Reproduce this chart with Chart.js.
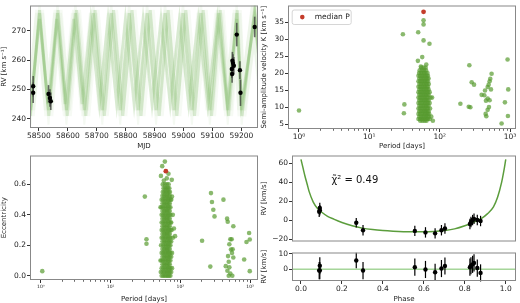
<!DOCTYPE html>
<html>
<head>
<meta charset="utf-8">
<script src="https://cdn.jsdelivr.net/npm/chart.js@4.4.1/dist/chart.umd.min.js"></script>
<style>
  body { margin: 0; background: #fff; width: 520px; height: 303px; overflow: hidden; position: relative; }
  canvas { position: absolute; }
</style>
</head>
<body>
<canvas id="rvTime" width="262" height="150" style="left:0;top:0"></canvas>
<canvas id="kPeriod" width="260" height="150" style="left:260px;top:0"></canvas>
<canvas id="ePeriod" width="262" height="153" style="left:0;top:150px"></canvas>
<canvas id="phaseFit" width="260" height="97" style="left:260px;top:150px"></canvas>
<canvas id="phaseRes" width="260" height="56" style="left:260px;top:247px"></canvas>
<script>
// ---- data ----

// RV vs time: observations
const obsMjd = [58480, 58480, 58533, 58538, 58541, 59169, 59171, 59174, 59167, 59168, 59184, 59195, 59197, 59246];
const obsRv  = [251.1, 248.9, 248.5, 247.1, 246.0, 259.8, 259.0, 258.1, 257.0, 255.3, 268.7, 256.6, 248.9, 271.3];
const obsErr = [3.5, 3.5, 3, 3, 3, 3, 3, 3, 3, 3, 4, 3, 4.5, 3.5];

// RV vs time: posterior model curves (vertices of the zigzags)
const modelA_mjd = [58460, 58471, 58502, 58533, 58564, 58595, 58626, 58657, 58688, 58719, 58750, 58781, 58812, 58843, 58874, 58905, 58936, 58967, 58998, 59029, 59060, 59091, 59122, 59153, 59184, 59201, 59246, 59270];
const modelA_rv  = [253, 243, 276, 243, 276, 243, 276, 243, 276, 243, 276, 243, 276, 243, 276, 243, 276, 243, 276, 243, 276, 243, 276, 243, 276, 243, 276, 251];
const modelB_mjd = [58460, 58472, 58502, 58531, 58561, 58590, 58620, 58649, 58679, 58709, 58739, 58769, 58799, 58829, 58860, 58891, 58922, 58954, 58986, 59018, 59051, 59084, 59117, 59151, 59184, 59200, 59246, 59270];
const modelB_rv  = [254, 245, 274, 245, 274, 245, 274, 245, 274, 245, 274, 245, 274, 245, 274, 245, 274, 245, 274, 245, 274, 245, 274, 245, 274, 245, 274, 252];
const modelC_mjd = [58460, 58470, 58502, 58534, 58566, 58598, 58630, 58662, 58694, 58726, 58758, 58790, 58822, 58853, 58885, 58916, 58947, 58977, 59008, 59038, 59068, 59097, 59127, 59156, 59186, 59202, 59246, 59270];
const modelC_rv  = [256, 241, 277, 241, 277, 241, 277, 241, 277, 241, 277, 241, 277, 241, 277, 241, 277, 241, 277, 241, 277, 241, 277, 241, 277, 241, 277, 253];
const modelD_rv  = [255, 238, 280, 238, 280, 238, 280, 238, 280, 238, 280, 238, 280, 238, 280, 238, 280, 238, 280, 238, 280, 238, 280, 238, 280, 238, 280, 252];

// K vs period: scattered samples [period days, K km/s]
const kSamples = [
  [1.0, 9.0], [30, 31.4], [31, 8.2], [31.5, 10.8], [49.5, 32], [59, 35.5], [59, 34.3], [59, 29.6],
  [71.6, 28.6], [56.5, 24.7], [49, 23.6], [64.5, 22.5], [54, 21.9],
  [197, 11.0], [259, 10.1], [273, 9.95], [264, 22.3], [285, 17.3], [308, 16.6],
  [547, 19.8], [524, 18.3], [513, 17.6], [497, 16.6], [481, 15.9], [536, 15.2], [441, 14.9], [395, 13.6], [431, 13.5],
  [481, 12.5], [513, 12.0], [455, 11.9], [502, 10.0], [481, 9.2], [450, 8.0], [460, 7.3],
  [923, 24.0], [943, 15.2], [846, 11.4], [933, 7.4], [759, 5.2]
];
// K vs period: dense cluster, one row per K level [K, periods]
const kCluster = [
  [21.6, [55, 59, 63]],
  [20.8, [52, 56, 60, 64]],
  [20.0, [51, 54, 57, 60, 63, 67]],
  [19.2, [50, 53, 56, 59, 62, 65, 68]],
  [18.4, [51.5, 54.5, 57.5, 60.5, 63.5, 66.5, 69.5]],
  [17.6, [50, 53, 56, 59, 62, 65, 68]],
  [16.8, [51.5, 54.5, 57.5, 60.5, 63.5, 66.5, 70]],
  [16.0, [50, 53, 56, 59, 62, 65, 68]],
  [15.2, [51.5, 54.5, 57.5, 60.5, 63.5, 66.5, 69.5]],
  [14.4, [50, 53, 56, 59, 62, 65, 68, 72]],
  [13.6, [51.5, 54.5, 57.5, 60.5, 63.5, 66.5, 69.5]],
  [12.8, [50, 53, 56, 59, 62, 65, 68, 74, 78]],
  [12.0, [51.5, 54.5, 57.5, 60.5, 63.5, 66.5, 69.5]],
  [11.2, [50, 53, 56, 59, 62, 65, 68, 72]],
  [10.4, [51.5, 54.5, 57.5, 60.5, 63.5, 66.5, 69.5]],
  [9.6, [50, 53, 56, 59, 62, 65, 68, 73]],
  [8.8, [51.5, 54.5, 57.5, 60.5, 63.5, 66.5, 69.5]],
  [8.0, [50, 53, 56, 59, 62, 65, 68, 71]],
  [7.2, [51.5, 54.5, 57.5, 60.5, 63.5, 66.5, 69.5, 76]],
  [6.5, [50, 53, 56, 59, 62, 65, 68, 72]],
  [6.0, [53, 57, 61, 65, 80]]
];
const medianK = [59, 38.0];

// eccentricity vs period: scattered samples [period days, e]
const eSamples = [
  [1.05, 0.03], [31, 0.52], [32.7, 0.24], [32.7, 0.21], [60, 0.75], [55, 0.72], [52.7, 0.656], [67.6, 0.67],
  [75.4, 0.63], [64, 0.64], [58, 0.625], [81, 0.31], [84, 0.26], [78, 0.40], [76, 0.52],
  [205, 0.23], [275, 0.543], [284, 0.484], [297, 0.434], [309, 0.39], [269, 0.06], [415, 0.50],
  [468, 0.375], [478, 0.355], [575, 0.325], [521, 0.24], [544, 0.24], [504, 0.207], [532, 0.172], [562, 0.174],
  [550, 0.15], [575, 0.12], [483, 0.129], [494, 0.092], [448, 0.063], [504, 0.055], [473, 0.033], [521, 0.015],
  [494, 0.0], [556, 0.0], [822, 0.107], [888, 0.222], [989, 0.238], [968, 0.281], [989, 0.03]
];
// eccentricity vs period: dense cluster [e, periods]
const eCluster = [
  [0.000, [54, 57, 60, 63, 66, 69, 72]],
  [0.025, [52.5, 55.5, 58.5, 61.5, 64.5, 67.5, 70.5, 74]],
  [0.050, [54, 57, 60, 63, 66, 69, 72, 76]],
  [0.075, [55.5, 58.5, 61.5, 64.5, 67.5, 70.5]],
  [0.100, [52, 54, 57, 60, 63, 66, 69, 72]],
  [0.125, [55.5, 58.5, 61.5, 64.5, 67.5, 70.5, 74]],
  [0.150, [54, 57, 60, 63, 66, 69, 72, 76]],
  [0.175, [55.5, 58.5, 61.5, 64.5, 67.5, 70.5]],
  [0.200, [53, 57, 60, 63, 66, 69, 72]],
  [0.225, [55.5, 58.5, 61.5, 64.5, 67.5, 70.5, 74]],
  [0.250, [54, 57, 60, 63, 66, 69, 72, 78]],
  [0.275, [55.5, 58.5, 61.5, 64.5, 67.5, 70.5]],
  [0.300, [54, 57, 60, 63, 66, 69, 72, 75]],
  [0.325, [55.5, 58.5, 61.5, 64.5, 67.5, 70.5]],
  [0.350, [54, 57, 60, 63, 66, 69, 72, 74]],
  [0.375, [55.5, 58.5, 61.5, 64.5, 67.5, 70.5]],
  [0.400, [54, 57, 60, 63, 66, 69, 72]],
  [0.425, [55.5, 58.5, 61.5, 64.5, 67.5, 70.5]],
  [0.450, [52, 54, 57, 60, 63, 66, 69, 72]],
  [0.475, [55.5, 58.5, 61.5, 64.5, 67.5, 70.5]],
  [0.500, [54, 57, 60, 63, 66, 69, 72, 74]],
  [0.525, [55.5, 58.5, 61.5, 64.5, 67.5, 70.5]],
  [0.550, [56, 59, 62, 65, 68, 71]],
  [0.575, [57.5, 60.5, 63.5, 66.5, 69.5]],
  [0.600, [56, 60, 64, 68]]
];
const medianE = [62, 0.687];

// phase-folded fit
const curvePhase = [0, 0.01, 0.02, 0.03, 0.04, 0.06, 0.08, 0.1, 0.13, 0.16, 0.2, 0.25, 0.3, 0.35, 0.4, 0.45, 0.5, 0.55, 0.6, 0.65, 0.7, 0.75, 0.8, 0.84, 0.88, 0.91, 0.94, 0.96, 0.98, 0.99, 1.0];
const curveRv    = [64, 55, 46, 38, 30, 19, 12.5, 8.5, 4, 1, -2.5, -6, -8.5, -10, -11, -11.7, -12.2, -12.4, -12.4, -12, -11, -9.3, -6, -2.5, 1.5, 6.5, 14, 24, 40, 51, 64];
const phaseObs   = [0.092, 0.092, 0.089, 0.27, 0.303, 0.556, 0.608, 0.655, 0.686, 0.703, 0.825, 0.83, 0.838, 0.845, 0.861, 0.877];
const phaseRv    = [12.7, 10.4, 8.8, -2.9, -10.7, -11.4, -13, -14, -10.7, -8.8, -4.2, -2, 0, 1.3, 0, -1];
const phaseErr   = [5.5, 5.5, 5.5, 5, 5.5, 5.5, 5.5, 5.5, 5.5, 5.5, 5.5, 5.5, 5.5, 5.5, 5.5, 5.5];
const residual   = [2.2, -0.9, -0.9, 5.6, -0.9, 1.3, -0.2, -2, 0.4, 2, 1.3, 2.2, 3.1, 4, 0.7, -2.4];
const chiText = 'χ̃² = 0.49';

// tick labels
const mjdTicks = [58500, 58600, 58700, 58800, 58900, 59000, 59100, 59200];
const rvTicks = [240, 250, 260, 270];
const kTicks = [5, 10, 15, 20, 25, 30, 35];
const eTicks = [0, 0.2, 0.4, 0.6];
const periodTicks = [1, 10, 100, 1000];
const periodLabels = ['10⁰', '10¹', '10²', '10³'];
const phaseTicks = [0, 0.2, 0.4, 0.6, 0.8, 1.0];
const fitTicks = [-20, 0, 20, 40, 60];
const resTicks = [0, 10];

// ---- styling ----
const FONT = 'DejaVu Sans';
const tickFont = { family: FONT, size: 7.5 };
const labelFont = { family: FONT, size: 7 };
const TEXT = '#222';
const GREEN = 'rgba(88,155,48,0.7)';
const RED = '#c43c2a';

const pairs = (xs, ys) => xs.map((x, i) => ({ x: x, y: ys[i] }));
const fmtNum = v => (v < 0 ? '−' + Math.abs(v) : String(v));

// samples list + cluster rows -> points; cluster rows go on the y value of the row
function samplePoints(list, rows) {
  const pts = list.map(p => ({ x: p[0], y: p[1] }));
  rows.forEach(r => r[1].forEach(p => pts.push({ x: p, y: r[0] })));
  return pts;
}

function linAxis(min, max, ticks, title, size, horizontal, fmt) {
  return {
    type: 'linear', min: min, max: max,
    afterBuildTicks: s => { s.ticks = ticks.map(v => ({ value: v })); },
    afterFit: s => { if (horizontal) s.height = size; else s.width = size; },
    ticks: { font: tickFont, color: TEXT, padding: 1, autoSkip: false, maxRotation: 0, callback: fmt || fmtNum },
    grid: { drawOnChartArea: false, tickLength: 3, color: '#333' },
    border: { display: false },
    title: { display: !!title, text: title, font: labelFont, color: TEXT, padding: 0 }
  };
}

function logAxis(min, max, title, size, fontSize) {
  return {
    type: 'logarithmic', min: min, max: max,
    afterBuildTicks: s => { s.ticks = periodTicks.map(v => ({ value: v })); },
    afterFit: s => { s.height = size; },
    ticks: {
      font: { family: FONT, size: fontSize }, color: TEXT, padding: 1, autoSkip: false, maxRotation: 0,
      callback: (v, i) => periodLabels[i]
    },
    grid: { drawOnChartArea: false, tickLength: 3, color: '#333' },
    border: { display: false },
    title: { display: true, text: title, font: labelFont, color: TEXT, padding: 0 }
  };
}

// box around the plot area, like matplotlib spines
const framePlugin = {
  id: 'frame',
  afterDraw(chart) {
    const { ctx, chartArea: a } = chart;
    ctx.save();
    ctx.strokeStyle = '#888';
    ctx.lineWidth = 1;
    ctx.strokeRect(a.left + 0.5, a.top + 0.5, a.right - a.left - 1, a.bottom - a.top - 1);
    ctx.restore();
  }
};

// vertical error bars, drawn just before their own dataset
const errorBars = {
  id: 'errorBars',
  beforeDatasetDraw(chart, args) {
    const ds = chart.data.datasets[args.index];
    if (!ds.errors) return;
    const { ctx } = chart;
    const xs = chart.scales.x, ys = chart.scales.y;
    ctx.save();
    ctx.strokeStyle = ds.errorColor || '#000';
    ctx.lineWidth = ds.errorWidth || 1.2;
    ds.data.forEach((p, j) => {
      const x = xs.getPixelForValue(p.x);
      ctx.beginPath();
      ctx.moveTo(x, ys.getPixelForValue(p.y - ds.errors[j]));
      ctx.lineTo(x, ys.getPixelForValue(p.y + ds.errors[j]));
      ctx.stroke();
    });
    ctx.restore();
  }
};

// minor ticks on the log period axes
const logMinor = {
  id: 'logMinor',
  afterDraw(chart) {
    const s = chart.scales.x;
    if (s.type !== 'logarithmic') return;
    const { ctx } = chart;
    const y = chart.chartArea.bottom;
    ctx.save();
    ctx.strokeStyle = '#444';
    ctx.lineWidth = 0.8;
    for (let d = 0; d < 4; d++) {
      for (let m = 2; m < 10; m++) {
        const v = m * Math.pow(10, d);
        if (v >= s.max) continue;
        const x = Math.round(s.getPixelForValue(v)) + 0.5;
        ctx.beginPath();
        ctx.moveTo(x, y);
        ctx.lineTo(x, y + 1.8);
        ctx.stroke();
      }
    }
    ctx.restore();
  }
};

const baseOptions = {
  responsive: false,
  animation: false,
  events: [],
  plugins: { legend: { display: false }, tooltip: { enabled: false } }
};

function modelLine(xs, ys, color, width, order) {
  return {
    type: 'line', data: pairs(xs, ys), showLine: true, pointRadius: 0,
    borderColor: color, borderWidth: width, fill: false, order: order
  };
}

// ---- panel 1: RV vs MJD ----
new Chart(document.getElementById('rvTime'), {
  type: 'scatter',
  data: {
    datasets: [
      {
        data: pairs(obsMjd, obsRv), errors: obsErr, errorColor: 'rgba(60,60,60,0.75)', errorWidth: 1.6,
        pointRadius: 2.2, backgroundColor: '#000', borderWidth: 0, order: 0
      },
      modelLine(modelA_mjd, modelA_rv, 'rgba(100,170,70,0.2)', 3, 1),
      modelLine(modelB_mjd, modelB_rv, 'rgba(100,170,70,0.2)', 3, 2),
      modelLine(modelC_mjd, modelC_rv, 'rgba(100,170,70,0.2)', 3, 3),
      modelLine(modelA_mjd, modelA_rv, 'rgba(100,170,70,0.06)', 9, 4),
      modelLine(modelC_mjd, modelC_rv, 'rgba(100,170,70,0.06)', 9, 5),
      modelLine(modelA_mjd, modelD_rv, 'rgba(100,170,70,0.07)', 2, 6)
    ]
  },
  options: Object.assign({}, baseOptions, {
    layout: { padding: { top: 3, right: 3, left: 0, bottom: 0 } },
    scales: {
      x: linAxis(58469, 59257.5, mjdTicks, 'MJD', 22, true, v => String(v)),
      y: linAxis(236.9, 278.6, rvTicks, 'RV [km s⁻¹]', 30, false)
    }
  }),
  plugins: [framePlugin, errorBars]
});

// ---- panel 2: K vs period ----
const legendBox = {
  id: 'legendBox',
  afterDraw(chart) {
    const { ctx, chartArea: a } = chart;
    const x0 = a.left + 3.7, y0 = a.top + 4;
    ctx.save();
    ctx.fillStyle = 'rgba(255,255,255,0.85)';
    ctx.strokeStyle = '#ccc';
    ctx.lineWidth = 0.8;
    ctx.beginPath();
    ctx.roundRect(x0 + 0.5, y0 + 0.5, 59, 14.5, 2);
    ctx.fill();
    ctx.stroke();
    ctx.fillStyle = RED;
    ctx.beginPath();
    ctx.arc(x0 + 10.6, y0 + 7.6, 2.3, 0, Math.PI * 2);
    ctx.fill();
    ctx.fillStyle = TEXT;
    ctx.font = '7.5px "DejaVu Sans"';
    ctx.textBaseline = 'middle';
    ctx.fillText('median P', x0 + 23, y0 + 8);
    ctx.restore();
  }
};

new Chart(document.getElementById('kPeriod'), {
  type: 'scatter',
  data: {
    datasets: [
      { data: [{ x: medianK[0], y: medianK[1] }], pointRadius: 2.4, backgroundColor: RED, borderWidth: 0, order: 0 },
      { data: samplePoints(kSamples, kCluster), pointRadius: 2.3, backgroundColor: GREEN, borderWidth: 0, order: 1 }
    ]
  },
  options: Object.assign({}, baseOptions, {
    layout: { padding: { top: 2, right: 3, left: 0, bottom: 0 } },
    scales: {
      x: logAxis(0.698, 1216, 'Period [days]', 21, 7.5),
      y: linAxis(3.57, 39.86, kTicks, 'Semi-amplitude velocity K [km s⁻¹]', 28, false)
    }
  }),
  plugins: [framePlugin, logMinor, legendBox]
});

// ---- panel 3: eccentricity vs period ----
new Chart(document.getElementById('ePeriod'), {
  type: 'scatter',
  data: {
    datasets: [
      { data: [{ x: medianE[0], y: medianE[1] }], pointRadius: 2.4, backgroundColor: RED, borderWidth: 0, order: 0 },
      { data: samplePoints(eSamples, eCluster), pointRadius: 2.3, backgroundColor: GREEN, borderWidth: 0, order: 1 }
    ]
  },
  options: Object.assign({}, baseOptions, {
    layout: { padding: { top: 5, right: 3, left: 0, bottom: 0 } },
    scales: {
      x: logAxis(0.746, 1298, 'Period [days]', 23, 4.5),
      y: linAxis(-0.028, 0.79, eTicks, 'Eccentricity', 30, false, v => v.toFixed(1))
    }
  }),
  plugins: [framePlugin, logMinor]
});

// ---- panel 4: phase-folded RV ----
const chiLabel = {
  id: 'chiLabel',
  afterDraw(chart) {
    const { ctx } = chart;
    ctx.save();
    ctx.fillStyle = '#111';
    ctx.font = '10px "DejaVu Sans"';
    ctx.textBaseline = 'alphabetic';
    ctx.fillText(chiText, chart.scales.x.getPixelForValue(0.149), chart.scales.y.getPixelForValue(38.8));
    ctx.restore();
  }
};

new Chart(document.getElementById('phaseFit'), {
  type: 'scatter',
  data: {
    datasets: [
      {
        data: pairs(phaseObs, phaseRv), errors: phaseErr, errorColor: '#000', errorWidth: 1.2,
        pointRadius: 2.2, backgroundColor: '#000', borderWidth: 0, order: 0
      },
      {
        type: 'line', data: pairs(curvePhase, curveRv), showLine: true, pointRadius: 0,
        borderColor: '#5b9d3c', borderWidth: 1.5, cubicInterpolationMode: 'monotone', fill: false, order: 1
      }
    ]
  },
  options: Object.assign({}, baseOptions, {
    layout: { padding: { top: 4, right: 3, left: 0, bottom: 0 } },
    scales: {
      x: { type: 'linear', min: -0.0438, max: 1.05, display: false },
      y: linAxis(-22.6, 68.1, fitTicks, 'RV [km/s]', 32, false)
    }
  }),
  plugins: [framePlugin, errorBars, chiLabel]
});

// ---- panel 5: residuals ----
new Chart(document.getElementById('phaseRes'), {
  type: 'scatter',
  data: {
    datasets: [
      {
        data: pairs(phaseObs, residual), errors: phaseErr, errorColor: '#000', errorWidth: 1.2,
        pointRadius: 2.2, backgroundColor: '#000', borderWidth: 0, order: 0
      },
      {
        type: 'line', data: [{ x: -0.1, y: 0 }, { x: 1.1, y: 0 }], showLine: true, pointRadius: 0,
        borderColor: '#79c067', borderWidth: 1, fill: false, order: 1
      }
    ]
  },
  options: Object.assign({}, baseOptions, {
    layout: { padding: { top: 1, right: 3, left: 0, bottom: 0 } },
    scales: {
      x: linAxis(-0.0438, 1.05, phaseTicks, 'Phase', 22, true, v => v.toFixed(1)),
      y: linAxis(-7.6, 10.7, resTicks, 'RV [km/s]', 32, false)
    }
  }),
  plugins: [framePlugin, errorBars]
});
</script>
</body>
</html>
